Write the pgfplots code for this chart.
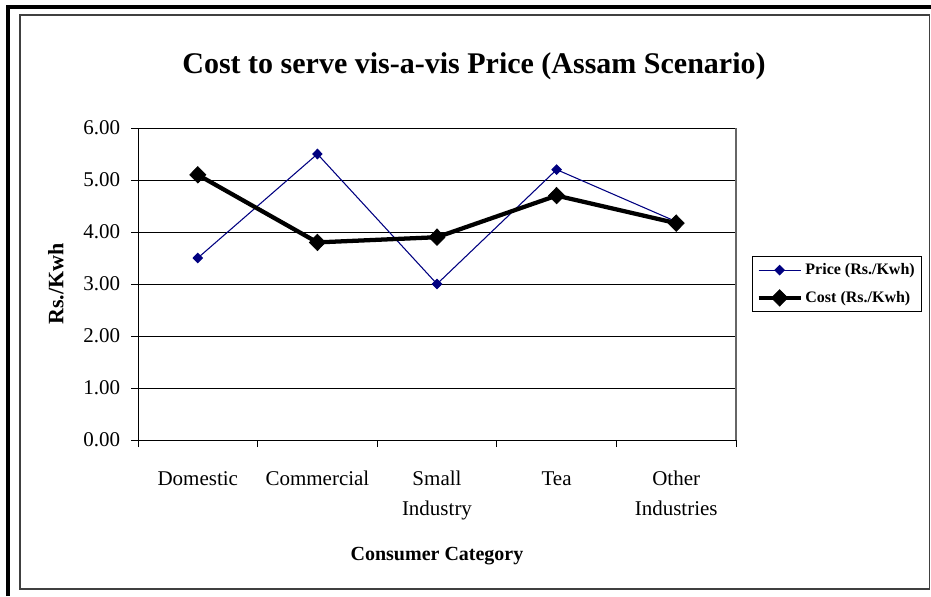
\documentclass[border=0pt]{standalone}
\usepackage{fontspec}
\setmainfont{Liberation Serif}
\usepackage{pgfplots}
\pgfplotsset{compat=1.18}
\definecolor{navy}{RGB}{0,0,128}
\begin{document}
\begin{tikzpicture}
\path[use as bounding box] (0,0) rectangle (698.25pt,-447pt);
\draw[black, line width=3pt] (6pt,-447pt) -- (6pt,-5.25pt) -- (698.25pt,-5.25pt);
\draw[black!75, line width=0.9pt] (15pt,-11.25pt) rectangle (697pt,-441.75pt);
\node[font={\bfseries\fontsize{22.5}{27}\selectfont}, anchor=base] at (355.5pt,-54.75pt) {Cost to serve vis-a-vis Price (Assam Scenario)};
\node[font={\bfseries\fontsize{16.5}{18}\selectfont}, rotate=90] at (42pt,-213pt) {Rs./Kwh};
\node[font={\bfseries\fontsize{15}{18}\selectfont}, anchor=base] at (327.75pt,-420pt) {Consumer Category};
\begin{axis}[
  name=ax,
  at={(103.5pt,-330pt)}, anchor=south west,
  scale only axis, width=448.5pt, height=234pt,
  xmin=-0.5, xmax=4.5, ymin=0, ymax=6,
  xtick={0,...,4},
  xticklabels={Domestic, Commercial, {Small\\Industry}, Tea, {Other\\Industries}},
  minor xtick={-0.5,0.5,...,4.5},
  ytick={0,...,6},
  tick align=outside, tick pos=left,
  major tick length=5.25pt, minor tick length=5.25pt,
  major x tick style={draw=none},
  tick style={black, line width=0.75pt},
  ymajorgrids, grid style={black, line width=0.75pt},
  axis line style={black, line width=0.75pt},
  /pgf/number format/assume math mode=true,
  yticklabel={\pgfmathprintnumber[fixed, fixed zerofill, precision=2]{\tick}},
  yticklabel style={font={\fontsize{15.75}{18}\selectfont}, anchor=east, inner sep=0pt, xshift=-8pt},
  xticklabel style={font={\fontsize{15.75}{22.5}\selectfont}, align=center, anchor=north, inner sep=0pt, yshift=-18pt},
  legend style={at={(1,0.5)}, anchor=west, xshift=12pt, draw=black, line width=0.75pt,
    font={\bfseries\fontsize{12}{14}\selectfont}, row sep=7pt, inner ysep=3pt, inner xsep=3pt},
  legend cell align=left,
  legend image code/.code={\draw[mark repeat=2,mark phase=2,#1] plot coordinates {(0pt,0pt) (15.75pt,0pt) (31.5pt,0pt)};},
]
\addplot[navy, line width=0.8pt, mark=diamond*, mark size=3.5pt, mark options={solid, xscale=1.3}]
  coordinates {(0,3.5) (1,5.5) (2,3.0) (3,5.2) (4,4.2)};
\addlegendentry{Price (Rs./Kwh)}
\addplot[black, line width=3.2pt, mark=diamond*, mark size=6.2pt, mark options={solid, line width=0.5pt, xscale=1.3}]
  coordinates {(0,5.1) (1,3.8) (2,3.9) (3,4.7) (4,4.17)};
\addlegendentry{Cost (Rs./Kwh)}
\end{axis}
\draw[black!60, line width=0.9pt] (ax.north east) -- (ax.south east);
\end{tikzpicture}
\end{document}
